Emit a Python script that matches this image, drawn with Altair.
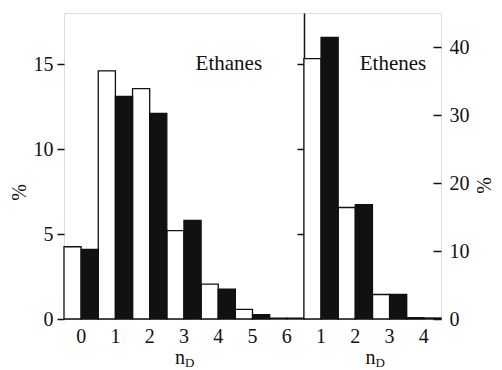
import altair as alt
import pandas as pd

# ---- data ----
left_n = ["0", "1", "2", "3", "4", "5", "6"]
left_white = [4.25, 14.6, 13.55, 5.2, 2.05, 0.57, 0.05]
left_black = [4.1, 13.1, 12.1, 5.8, 1.75, 0.25, 0.05]

right_n = ["1", "2", "3", "4"]
right_white = [38.3, 16.4, 3.6, 0.2]
right_black = [41.4, 16.8, 3.6, 0.15]

left_ticks = [0, 5, 10, 15]
right_ticks = [0, 10, 20, 30, 40]

# ---- tables ----
left_cats = ["L" + n for n in left_n]
right_cats = ["R" + n for n in right_n]
all_cats = left_cats + right_cats

left_df = pd.DataFrame(
    [{"cat": c, "series": "a", "value": v} for c, v in zip(left_cats, left_white)]
    + [{"cat": c, "series": "b", "value": v} for c, v in zip(left_cats, left_black)]
)
right_df = pd.DataFrame(
    [{"cat": c, "series": "a", "value": v} for c, v in zip(right_cats, right_white)]
    + [{"cat": c, "series": "b", "value": v} for c, v in zip(right_cats, right_black)]
)

FONT = "Liberation Serif"
INK = "#111111"
W, H = 377, 306

xscale = alt.Scale(domain=all_cats, paddingInner=0, paddingOuter=0)
fill = alt.Fill("series:N", scale=alt.Scale(domain=["a", "b"], range=["white", INK]), legend=None)
xoff = alt.XOffset("series:N", sort=["a", "b"], scale=alt.Scale(paddingInner=0, paddingOuter=0))

x_axis = alt.Axis(
    orient="bottom", title=None, ticks=False, domain=False, labelAngle=0,
    labelExpr="substring(datum.label, 1)", labelFont=FONT, labelFontSize=20,
    labelColor=INK, labelPadding=7, grid=False,
)

left_bars = alt.Chart(left_df).mark_bar(stroke=INK, strokeWidth=1.3).encode(
    x=alt.X("cat:N", scale=xscale, axis=x_axis),
    xOffset=xoff,
    y=alt.Y("value:Q", scale=alt.Scale(domain=[0, 18], nice=False),
            axis=alt.Axis(orient="left", values=left_ticks, title="%", domain=False,
                          tickSize=7, tickWidth=1.5, tickColor=INK, labelPadding=4,
                          labelFont=FONT, labelFontSize=20, labelColor=INK, grid=False,
                          titleFont=FONT, titleFontSize=20, titleColor=INK, titleFontWeight="normal",
                          titleX=-45, titleY=179, titleAngle=270, titleAlign="center",
                          titleBaseline="middle")),
    fill=fill,
)

divider = alt.Chart(left_df).mark_bar(opacity=0).encode(
    x=alt.X("cat:N", scale=xscale),
    y=alt.Y("value:Q", scale=alt.Scale(domain=[0, 18], nice=False),
            axis=alt.Axis(orient="left", offset=-240, values=[5, 10, 15], labels=False,
                          title=None, domain=True, domainColor=INK, domainWidth=1.5,
                          tickSize=7, tickWidth=1.5, tickColor=INK, grid=False)),
)

right_bars = alt.Chart(right_df).mark_bar(stroke=INK, strokeWidth=1.3).encode(
    x=alt.X("cat:N", scale=xscale),
    xOffset=xoff,
    y=alt.Y("value:Q", scale=alt.Scale(domain=[0, 45], nice=False),
            axis=alt.Axis(orient="right", offset=-8, values=right_ticks, title="%",
                          domain=False, tickSize=8, tickWidth=1.5, tickColor=INK,
                          labelPadding=8, labelFont=FONT, labelFontSize=20, labelColor=INK,
                          grid=False, titleFont=FONT, titleFontSize=20, titleColor=INK,
                          titleFontWeight="normal", titleX=51, titleY=172, titleAngle=270,
                          titleAlign="center", titleBaseline="middle")),
    fill=fill,
)

txt = dict(font=FONT, fontSize=21, color=INK, baseline="middle", align="center")

ethanes = alt.Chart(pd.DataFrame({"cat": ["L4"], "v": [15.0], "t": ["Ethanes"]})).mark_text(**txt).encode(
    x=alt.X("cat:N", scale=xscale, bandPosition=0.81),
    y=alt.Y("v:Q", scale=alt.Scale(domain=[0, 18], nice=False), axis=None),
    text="t:N",
)
ethenes = alt.Chart(pd.DataFrame({"cat": ["R3"], "v": [15.0], "t": ["Ethenes"]})).mark_text(**txt).encode(
    x=alt.X("cat:N", scale=xscale, bandPosition=0.6),
    y=alt.Y("v:Q", scale=alt.Scale(domain=[0, 18], nice=False), axis=None),
    text="t:N",
)

n_df = pd.DataFrame({"cat": ["L3", "R3"], "t": ["n", "n"], "s": ["D", "D"]})
n_main_l = alt.Chart(n_df.iloc[[0]]).mark_text(font=FONT, fontSize=20, color=INK, align="right",
                                               baseline="alphabetic", dx=1).encode(
    x=alt.X("cat:N", scale=xscale), y=alt.value(351), text="t:N")
n_sub_l = alt.Chart(n_df.iloc[[0]]).mark_text(font=FONT, fontSize=13, color=INK, align="left",
                                              baseline="alphabetic", dx=1).encode(
    x=alt.X("cat:N", scale=xscale), y=alt.value(354), text="s:N")
n_main_r = alt.Chart(n_df.iloc[[1]]).mark_text(font=FONT, fontSize=20, color=INK, align="right",
                                               baseline="alphabetic", dx=3).encode(
    x=alt.X("cat:N", scale=xscale, bandPosition=0), y=alt.value(351), text="t:N")
n_sub_r = alt.Chart(n_df.iloc[[1]]).mark_text(font=FONT, fontSize=13, color=INK, align="left",
                                              baseline="alphabetic", dx=3).encode(
    x=alt.X("cat:N", scale=xscale, bandPosition=0), y=alt.value(354), text="s:N")

chart = alt.layer(
    left_bars, divider, right_bars, ethanes, ethenes, n_main_l, n_sub_l, n_main_r, n_sub_r
).resolve_scale(y="independent").properties(
    width=W, height=H,
    autosize=alt.AutoSizeParams(type="none"),
    padding={"left": 56, "top": 5, "right": 53, "bottom": 51},
).configure_view(stroke=INK, strokeWidth=1.5).configure(background="white")

chart.save("out.html", embed_options={"renderer": "svg", "actions": False})
